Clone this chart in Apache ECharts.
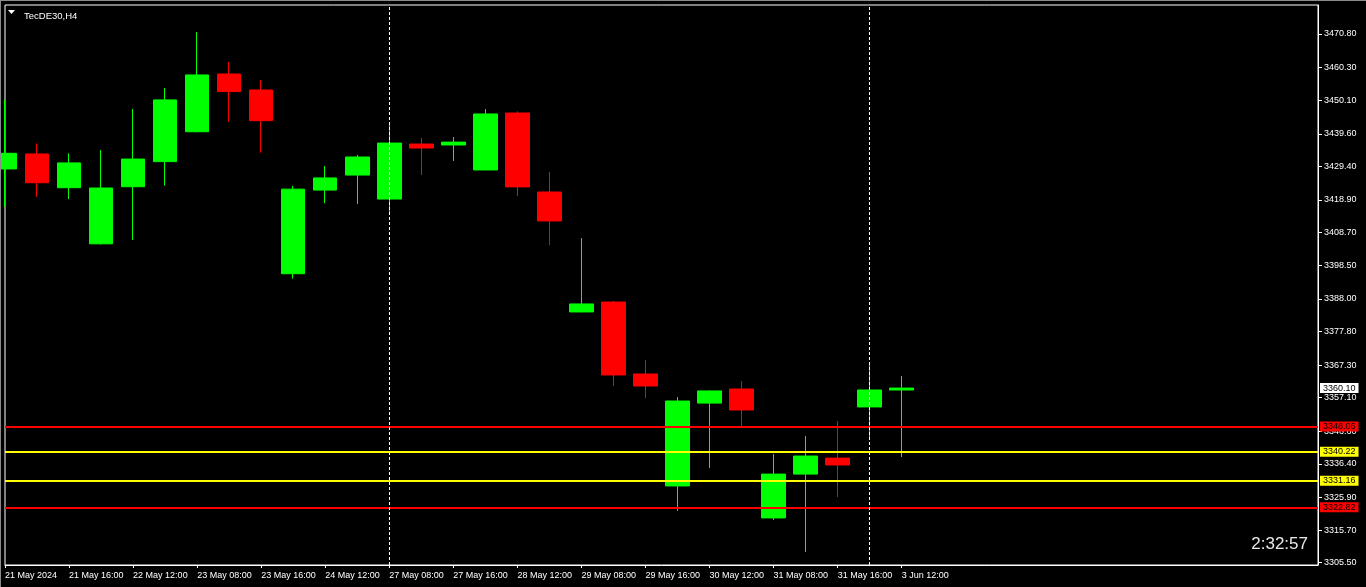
<!DOCTYPE html>
<html>
<head>
<meta charset="utf-8">
<script src="https://cdn.jsdelivr.net/npm/echarts@6/dist/echarts.min.js"></script>
<style>
html,body{margin:0;padding:0;background:#000;overflow:hidden;}
#wrap{position:relative;width:1366px;height:587px;}
#c{width:1366px;height:587px;}
#frame{position:absolute;left:0;top:0;width:1366px;height:587px;box-sizing:border-box;border-top:1px solid #8a8a8a;border-left:1px solid #8a8a8a;pointer-events:none;}
</style>
</head>
<body>
<div id="wrap"><div id="c"></div><div id="frame"></div></div>
<script>
// ---- data ----
const symbolTitle = 'TecDE30,H4';
const clockText = '2:32:57';
const xLabels = ['21 May 2024','21 May 16:00','22 May 12:00','23 May 08:00','23 May 16:00','24 May 12:00',
  '27 May 08:00','27 May 16:00','28 May 12:00','29 May 08:00','29 May 16:00','30 May 12:00',
  '31 May 08:00','31 May 16:00','3 Jun 12:00'];
const candleOpen  = [3428.6,3433.3,3422.75,3405.2,3423.05,3430.9,3440.25,3458.3,3453.3,3395.85,3422.0,3426.7,3419.2,3436.4,3436.1,3428.3,3446.1,3421.4,3383.9,3387.0,3364.5,3329.5,3355.4,3359.8,3319.5,3333.2,3338.2,3354.2,3359.5];
const candleClose = [3433.5,3424.3,3430.5,3422.65,3431.7,3450.2,3458.0,3452.8,3443.7,3422.3,3425.8,3432.35,3436.7,3435.15,3437.0,3445.8,3423.0,3412.35,3386.4,3364.2,3360.75,3356.05,3359.2,3353.25,3333.2,3338.85,3336.05,3359.5,3360.1];
const candleLow   = [3416.8,3419.9,3419.2,3405.0,3406.4,3423.4,3440.1,3443.4,3433.7,3394.3,3417.9,3417.65,3414.2,3426.7,3431.1,3428.2,3420.15,3404.8,3383.8,3360.75,3357.0,3321.7,3335.1,3347.6,3318.85,3308.85,3326.05,3344.5,3338.55];
const candleHigh  = [3450.2,3436.6,3433.5,3434.5,3447.35,3453.9,3471.4,3462.05,3456.4,3423.3,3429.5,3433.0,3442.35,3438.3,3438.6,3447.35,3446.6,3427.65,3407.0,3387.3,3368.9,3357.3,3359.4,3362.3,3339.5,3345.1,3349.8,3367.9,3363.9];
const emptySlots = 13;
const yTickLabels = [3305.50,3315.70,3325.90,3336.40,3346.60,3357.10,3367.30,3377.80,3388.00,3398.50,3408.70,3418.90,3429.40,3439.60,3450.10,3460.30,3470.80];
const levelValues = [3348.06,3340.22,3331.16,3322.82];
const levelColors = ['#ff0000','#ffff00','#ffff00','#ff0000'];
const bidPrice = 3360.10;
const separatorBars = [12,27];
const yMin = 3304.78, yMax = 3479.87;

// ---- build ----
const nBars = candleOpen.length + emptySlots;
const categories = [];
for (let i = 0; i < nBars; i++) categories.push('bar' + i);
const labelAt = {};
xLabels.forEach((t, k) => { labelAt[k * 2] = t; });
const ohlc = candleOpen.map((o, i) => [o, candleClose[i], candleLow[i], candleHigh[i]]);

const FONT = 'Liberation Sans';
const lineData = [];
levelValues.forEach((v, i) => {
  lineData.push({
    yAxis: v,
    lineStyle: {color: levelColors[i], width: 2, type: 'solid'},
    label: {show: true, position: 'end', distance: 2, formatter: v.toFixed(2),
      color: '#000', backgroundColor: levelColors[i], padding: [1, 3, 0, 3],
      fontFamily: FONT, fontSize: 9, lineHeight: 9}
  });
});
lineData.push({
  yAxis: bidPrice,
  lineStyle: {color: 'rgba(0,0,0,0)', width: 1, type: 'solid'},
  label: {show: true, position: 'end', distance: 2, formatter: bidPrice.toFixed(2),
    color: '#000', backgroundColor: '#ffffff', padding: [1, 3, 0, 3],
    fontFamily: FONT, fontSize: 9, lineHeight: 9}
});
separatorBars.forEach(b => {
  lineData.push({
    xAxis: 'bar' + b,
    lineStyle: {color: '#ffffff', width: 1, type: [3, 2]},
    label: {show: false}
  });
});

const chart = echarts.init(document.getElementById('c'), null, {renderer: 'canvas'});
chart.setOption({
  backgroundColor: '#000',
  animation: false,
  grid: {left: 5, top: 5, right: 48, bottom: 22, show: true, borderColor: '#ffffff', borderWidth: 1, backgroundColor: 'transparent'},
  xAxis: {
    type: 'category', data: categories, boundaryGap: false,
    axisLine: {show: true, lineStyle: {color: '#ffffff', width: 1}},
    axisTick: {show: true, length: 3, inside: false, lineStyle: {color: '#ffffff'},
      interval: (i) => labelAt[i] !== undefined},
    axisLabel: {show: true, color: '#ffffff', fontFamily: FONT, fontSize: 9, margin: 6, align: 'left',
      interval: (i) => labelAt[i] !== undefined,
      formatter: (v, i) => labelAt[i] || ''},
    splitLine: {show: false}
  },
  yAxis: {
    type: 'value', position: 'right', min: yMin, max: yMax, scale: true,
    axisLine: {show: true, lineStyle: {color: '#ffffff', width: 1}},
    axisTick: {show: true, length: 4, inside: false, lineStyle: {color: '#ffffff'}, customValues: yTickLabels},
    axisLabel: {show: true, color: '#ffffff', fontFamily: FONT, fontSize: 9, margin: 6,
      customValues: yTickLabels, formatter: (v) => Number(v).toFixed(2)},
    splitLine: {show: false}
  },
  title: {text: symbolTitle, left: 19, top: 6, textStyle: {color: '#ffffff', fontFamily: FONT, fontSize: 9.5, fontWeight: 'normal'}},
  graphic: [
    {type: 'polygon', shape: {points: [[8, 10], [15, 10], [11.5, 14]]}, style: {fill: '#ffffff'}, silent: true},
    {type: 'text', right: 58, top: 536, style: {text: clockText, fill: '#e8e8e8', font: '17px "Liberation Sans"'}, silent: true}
  ],
  series: [{
    type: 'candlestick',
    data: ohlc,
    barWidth: 24,
    clip: true,
    itemStyle: {color: '#00ff00', color0: '#ff0000', borderColor: '#00ff00', borderColor0: '#ff0000', borderWidth: 1},
    emphasis: {disabled: true},
    markLine: {silent: true, symbol: 'none', animation: false, data: lineData}
  }]
});
</script>
</body>
</html>
